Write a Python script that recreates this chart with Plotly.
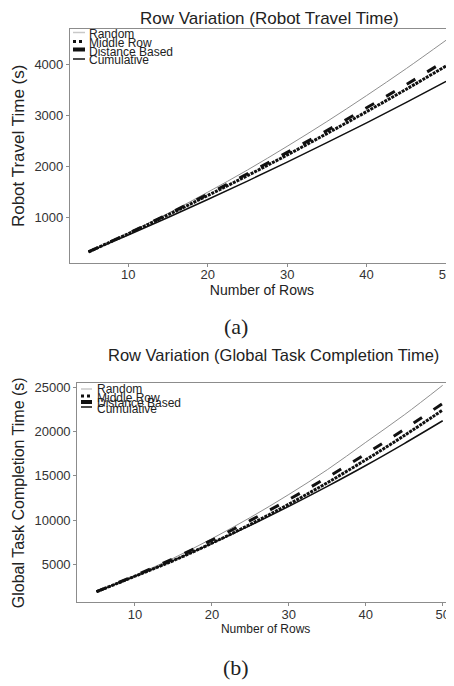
import plotly.graph_objects as go

# The page puts the figure 8px from the top-left corner of the 454x686 window.
OFF = 8
W, H = 454 - OFF, 686 - OFF

# ---------------- data ----------------
rows = [5, 10, 15, 20, 25, 30, 35, 40, 45, 50]

travel_random = [330, 700, 1085, 1500, 1935, 2400, 2885, 3395, 3925, 4480]
travel_middle = [330, 685, 1055, 1435, 1825, 2230, 2650, 3080, 3520, 3975]
travel_distance = [330, 693, 1070, 1460, 1862, 2280, 2710, 3155, 3612, 4085]
travel_cumulative = [330, 662, 1005, 1357, 1718, 2090, 2471, 2861, 3262, 3673]

gtc_random = [1900, 3750, 5700, 7900, 10300, 12900, 15700, 18800, 21900, 25250]
gtc_middle = [1900, 3650, 5420, 7390, 9520, 11800, 14230, 16820, 19560, 22450]
gtc_distance = [1900, 3720, 5650, 7740, 9960, 12330, 14840, 17490, 20270, 23200]
gtc_cumulative = [1900, 3640, 5440, 7370, 9410, 11560, 13820, 16180, 18660, 21240]

series_names = ["Random", "Middle Row", "Distance Based", "Cumulative"]
x_ticks = [10, 20, 30, 40, 50]
travel_ticks = [1000, 2000, 3000, 4000]
gtc_ticks = [5000, 10000, 15000, 20000, 25000]

# ---------------- styles ----------------
styles = {
    "Random": dict(color="#8f8f8f", width=1, dash="solid"),
    "Middle Row": dict(color="#111111", width=3, dash="3px,1px"),
    "Distance Based": dict(color="#111111", width=3, dash="10px,14px"),
    "Cumulative": dict(color="#111111", width=1.5, dash="solid"),
}
legend_styles = {
    "Random": dict(color="#c8c8c8", width=1.5, dash="solid"),
    "Middle Row": dict(color="#111111", width=3, dash="dot"),
    "Distance Based": dict(color="#111111", width=4, dash="solid"),
    "Cumulative": dict(color="#111111", width=1.5, dash="solid"),
}

FONT = "Arial"


def px(x):
    return (x - OFF) / W


def py(y):
    return 1 - (y - OFF) / H


fig = go.Figure()

top = dict(zip(series_names, [travel_random, travel_middle, travel_distance, travel_cumulative]))
bot = dict(zip(series_names, [gtc_random, gtc_middle, gtc_distance, gtc_cumulative]))

for name in series_names:
    fig.add_trace(go.Scatter(x=rows, y=top[name], mode="lines", name=name,
                             line=dict(shape="spline", **styles[name]),
                             xaxis="x", yaxis="y", showlegend=False))
for name in series_names:
    fig.add_trace(go.Scatter(x=rows, y=bot[name], mode="lines", name=name,
                             line=dict(shape="spline", **styles[name]),
                             xaxis="x2", yaxis="y2", showlegend=False))

axis_common = dict(showgrid=False, zeroline=False, showline=True, linecolor="#8c8c8c",
                   linewidth=1.2, ticks="outside", ticklen=3, tickcolor="#8c8c8c",
                   tickfont=dict(family=FONT, size=13, color="#333333"), automargin=False)

fig.update_layout(
    width=W, height=H,
    margin=dict(l=0, r=0, t=0, b=0),
    paper_bgcolor="white", plot_bgcolor="white",
    showlegend=False,
    font=dict(family=FONT),
    xaxis=dict(domain=[px(70), 1], range=[2.67, 51.0], tickvals=x_ticks, anchor="y",
               mirror=True, ticklabelstandoff=-3,
               title=dict(text="Number of Rows", font=dict(family=FONT, size=14, color="#222222"),
                          standoff=0),
               **axis_common),
    yaxis=dict(domain=[py(262.7), py(29)], range=[118, 4700], tickvals=travel_ticks, anchor="x",
               tickformat="d",
               title=dict(text="Robot Travel Time (s)", font=dict(family=FONT, size=17, color="#222222"),
                          standoff=5),
               **axis_common),
    xaxis2=dict(domain=[px(77.3), 1], range=[2.5, 51.47], tickvals=x_ticks, anchor="y2",
                mirror=True, ticklabelstandoff=-3,
                title=dict(text="Number of Rows", font=dict(family=FONT, size=12, color="#222222"),
                           standoff=0),
                **axis_common),
    yaxis2=dict(domain=[py(602.3), py(383.3)], range=[701, 25475], tickvals=gtc_ticks, anchor="x2",
                tickformat="d",
                title=dict(text="Global Task Completion Time (s)",
                           font=dict(family=FONT, size=16, color="#222222"), standoff=5),
                **axis_common),
)

annotations = [
    dict(text="Row Variation (Robot Travel Time)", x=px(269), y=py(8), xref="paper", yref="paper",
         showarrow=False, xanchor="center", yanchor="top", borderpad=0,
         font=dict(family=FONT, size=17, color="#222222")),
    dict(text="Row Variation (Global Task Completion Time)", x=px(273), y=py(355), xref="paper",
         yref="paper", showarrow=False, xanchor="center", yanchor="middle",
         font=dict(family=FONT, size=16.5, color="#222222")),
    dict(text="(a)", x=px(236), y=py(326), xref="paper", yref="paper", showarrow=False,
         xanchor="center", yanchor="middle",
         font=dict(family="Liberation Serif, DejaVu Serif, serif", size=22, color="#222222")),
    dict(text="(b)", x=px(236), y=py(667), xref="paper", yref="paper", showarrow=False,
         xanchor="center", yanchor="middle",
         font=dict(family="Liberation Serif, DejaVu Serif, serif", size=22, color="#222222")),
]

shapes = []
# manual compact legends (as in the original figure)
legend_top = dict(sx0=73, sx1=85, tx=87, sample_y=[32.5, 41.5, 49.5, 59], text_y=[34.5, 43.5, 52, 60.5])
legend_bot = dict(sx0=81, sx1=92, tx=95, sample_y=[389, 396, 402, 407], text_y=[388.5, 397.5, 403, 408.5])
for lg in (legend_top, legend_bot):
    for name, sy, ty in zip(series_names, lg["sample_y"], lg["text_y"]):
        st = legend_styles[name]
        shapes.append(dict(type="line", xref="paper", yref="paper",
                           x0=px(lg["sx0"]), x1=px(lg["sx1"]), y0=py(sy), y1=py(sy),
                           line=dict(color=st["color"], width=st["width"], dash=st["dash"])))
        annotations.append(dict(text=name, x=px(lg["tx"]), y=py(ty), xref="paper", yref="paper",
                                showarrow=False, xanchor="left", yanchor="middle",
                                font=dict(family=FONT, size=12, color="#222222")))

fig.update_layout(annotations=annotations, shapes=shapes)

fig.write_html("out.html")
